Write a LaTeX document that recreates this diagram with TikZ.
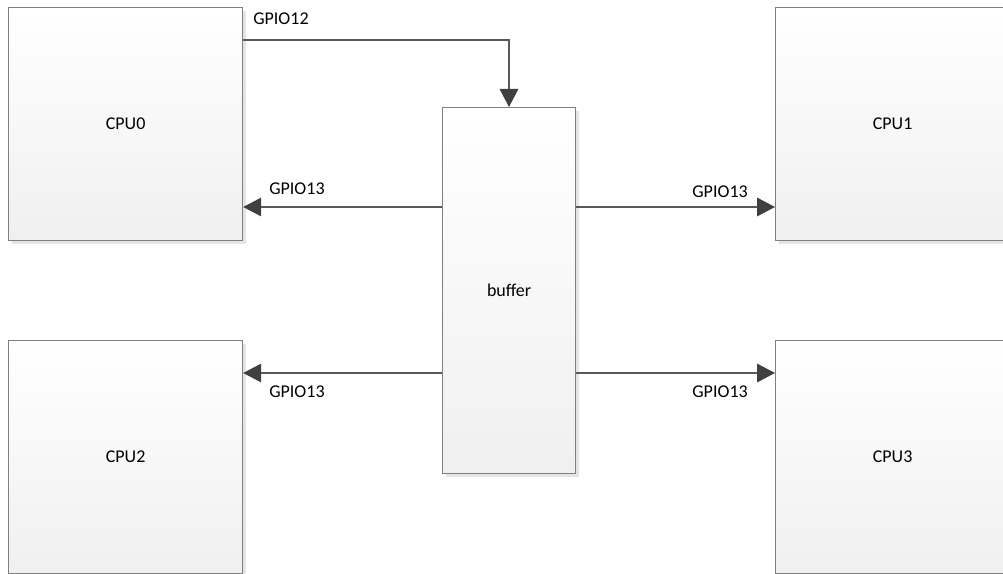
\documentclass[tikz,border=0pt]{standalone}
\usepackage{fontspec}
\setmainfont{Carlito}
\usetikzlibrary{arrows.meta,shadows}
\definecolor{boxline}{HTML}{7F7F7F}
\definecolor{conn}{HTML}{595959}
\definecolor{tipc}{HTML}{404040}
\begin{document}
\begin{tikzpicture}[x=0.75pt,y=-0.75pt,
  blk/.style={draw=boxline, line width=0.9pt, top color=white, bottom color=black!6,
    minimum width=#1, inner sep=0pt, anchor=north west, font=\fontsize{13.5}{15}\selectfont,
    drop shadow={shadow xshift=2.5pt, shadow yshift=-2.5pt, fill=black!10, opacity=1}},
  conline/.style={draw=conn, line width=0.8pt, -{Triangle[length=13.5pt,width=14pt,fill=tipc,color=tipc]}},
  lbl/.style={font=\fontsize{13.5}{15}\selectfont, inner sep=0pt}]
\useasboundingbox (0,0) rectangle (1003,574);
\node[blk=234*0.75pt, minimum height=233*0.75pt] (cpu0) at (8,7) {CPU0};
\node[blk=234*0.75pt, minimum height=233*0.75pt] (cpu1) at (775,7) {CPU1};
\node[blk=234*0.75pt, minimum height=233*0.75pt] (cpu2) at (8,340) {CPU2};
\node[blk=234*0.75pt, minimum height=233*0.75pt] (cpu3) at (775,340) {CPU3};
\node[blk=133*0.75pt, minimum height=366*0.75pt] (buf) at (442,107) {buffer};
\coordinate (g12a) at (cpu0.north east |- 0,40);
\coordinate (g12b) at (509,40);
\draw[conline] (g12a) -- (g12b) -- (g12b |- buf.north);
\draw[conline] (buf.west |- 0,207) -- (cpu0.east |- 0,207);
\draw[conline] (buf.east |- 0,207) -- (cpu1.west |- 0,207);
\draw[conline] (buf.west |- 0,373) -- (cpu2.east |- 0,373);
\draw[conline] (buf.east |- 0,373) -- (cpu3.west |- 0,373);
\node[lbl, anchor=west] (l12) at (253,19) {GPIO12};
\node[lbl, anchor=west] (l13a) at (269,189) {GPIO13};
\node[lbl, anchor=east] (l13b) at (748,192) {GPIO13};
\node[lbl, anchor=west] (l13c) at (269,392) {GPIO13};
\node[lbl, anchor=east] (l13d) at (748,392) {GPIO13};
\end{tikzpicture}
\end{document}
